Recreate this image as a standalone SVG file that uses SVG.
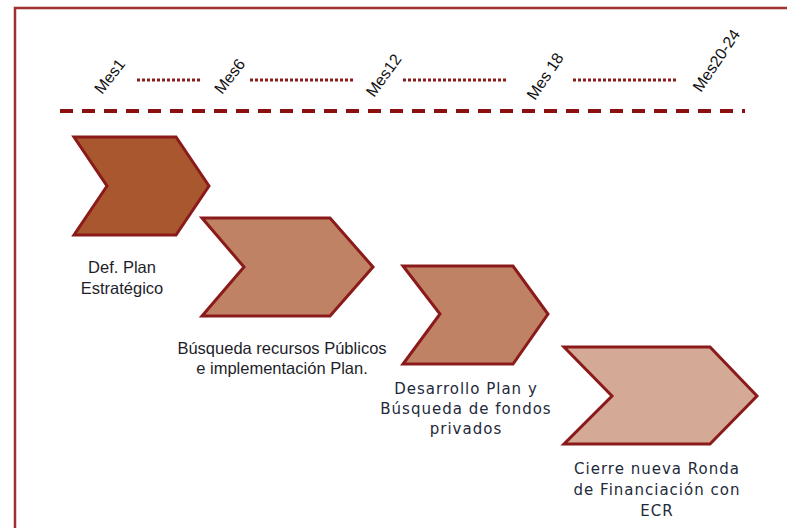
<svg xmlns="http://www.w3.org/2000/svg" width="787" height="528" viewBox="0 0 787 528">
<style>
.chev{stroke:#8b1a1a;stroke-width:3;stroke-linejoin:miter}
.lbl{font-family:"Liberation Sans",Arial,sans-serif;font-size:16.5px;fill:#1e1e2a;text-anchor:middle}
.lbl2{font-family:"DejaVu Sans",Verdana,sans-serif;font-size:15px;letter-spacing:1px;fill:#1e2a3a;text-anchor:middle}
.mes{font-family:"Liberation Sans",Arial,sans-serif;font-size:16px;fill:#111}
.dot{stroke:#8b1a1a;stroke-width:3;stroke-dasharray:3 2;fill:none}
</style>
<rect x="0" y="0" width="787" height="528" fill="#fff"/>
<rect x="15" y="8" width="800" height="560" fill="none" stroke="#a03030" stroke-width="2.5"/>
<g id="timeline">
<line x1="60" y1="111" x2="745" y2="111" stroke="#8b1111" stroke-width="4" stroke-dasharray="13 9"/>
<line class="dot" x1="137" y1="80" x2="201" y2="80"/>
<line class="dot" x1="250" y1="80" x2="355" y2="80"/>
<line class="dot" x1="403" y1="80" x2="508" y2="80"/>
<line class="dot" x1="573" y1="80" x2="678" y2="80"/>
<text class="mes" transform="translate(102,95) rotate(-52)">Mes1</text>
<text class="mes" transform="translate(222,95) rotate(-52)">Mes6</text>
<text class="mes" transform="translate(374,98) rotate(-54)">Mes12</text>
<text class="mes" transform="translate(535,101) rotate(-56)">Mes 18</text>
<text class="mes" transform="translate(701,93) rotate(-56)">Mes20-24</text>
</g>
<g id="step1">
<polygon class="chev" fill="#a9572f" points="74,137 176,137 209,186 176,235 74,235 107,186"/>
<text class="lbl" x="122" y="273">Def. Plan</text>
<text class="lbl" x="122" y="294">Estratégico</text>
</g>
<g id="step2">
<polygon class="chev" fill="#c08264" points="202,218 330,218 373,267 330,316 202,316 244,267"/>
<text class="lbl" x="282" y="354">Búsqueda recursos Públicos</text>
<text class="lbl" x="282" y="374">e implementación Plan.</text>
</g>
<g id="step3">
<polygon class="chev" fill="#c08264" points="403,266 513,266 548,314 513,364 403,364 440,314"/>
<text class="lbl2" x="466" y="394">Desarrollo Plan y</text>
<text class="lbl2" x="466" y="414">Búsqueda de fondos</text>
<text class="lbl2" x="466" y="434">privados</text>
</g>
<g id="step4">
<polygon class="chev" fill="#d4a995" points="564,347 710,347 757,396 710,444 564,444 612,396"/>
<text class="lbl2" x="657" y="474">Cierre nueva Ronda</text>
<text class="lbl2" x="657" y="495">de Financiación con</text>
<text class="lbl2" x="657" y="516">ECR</text>
</g>
</svg>
